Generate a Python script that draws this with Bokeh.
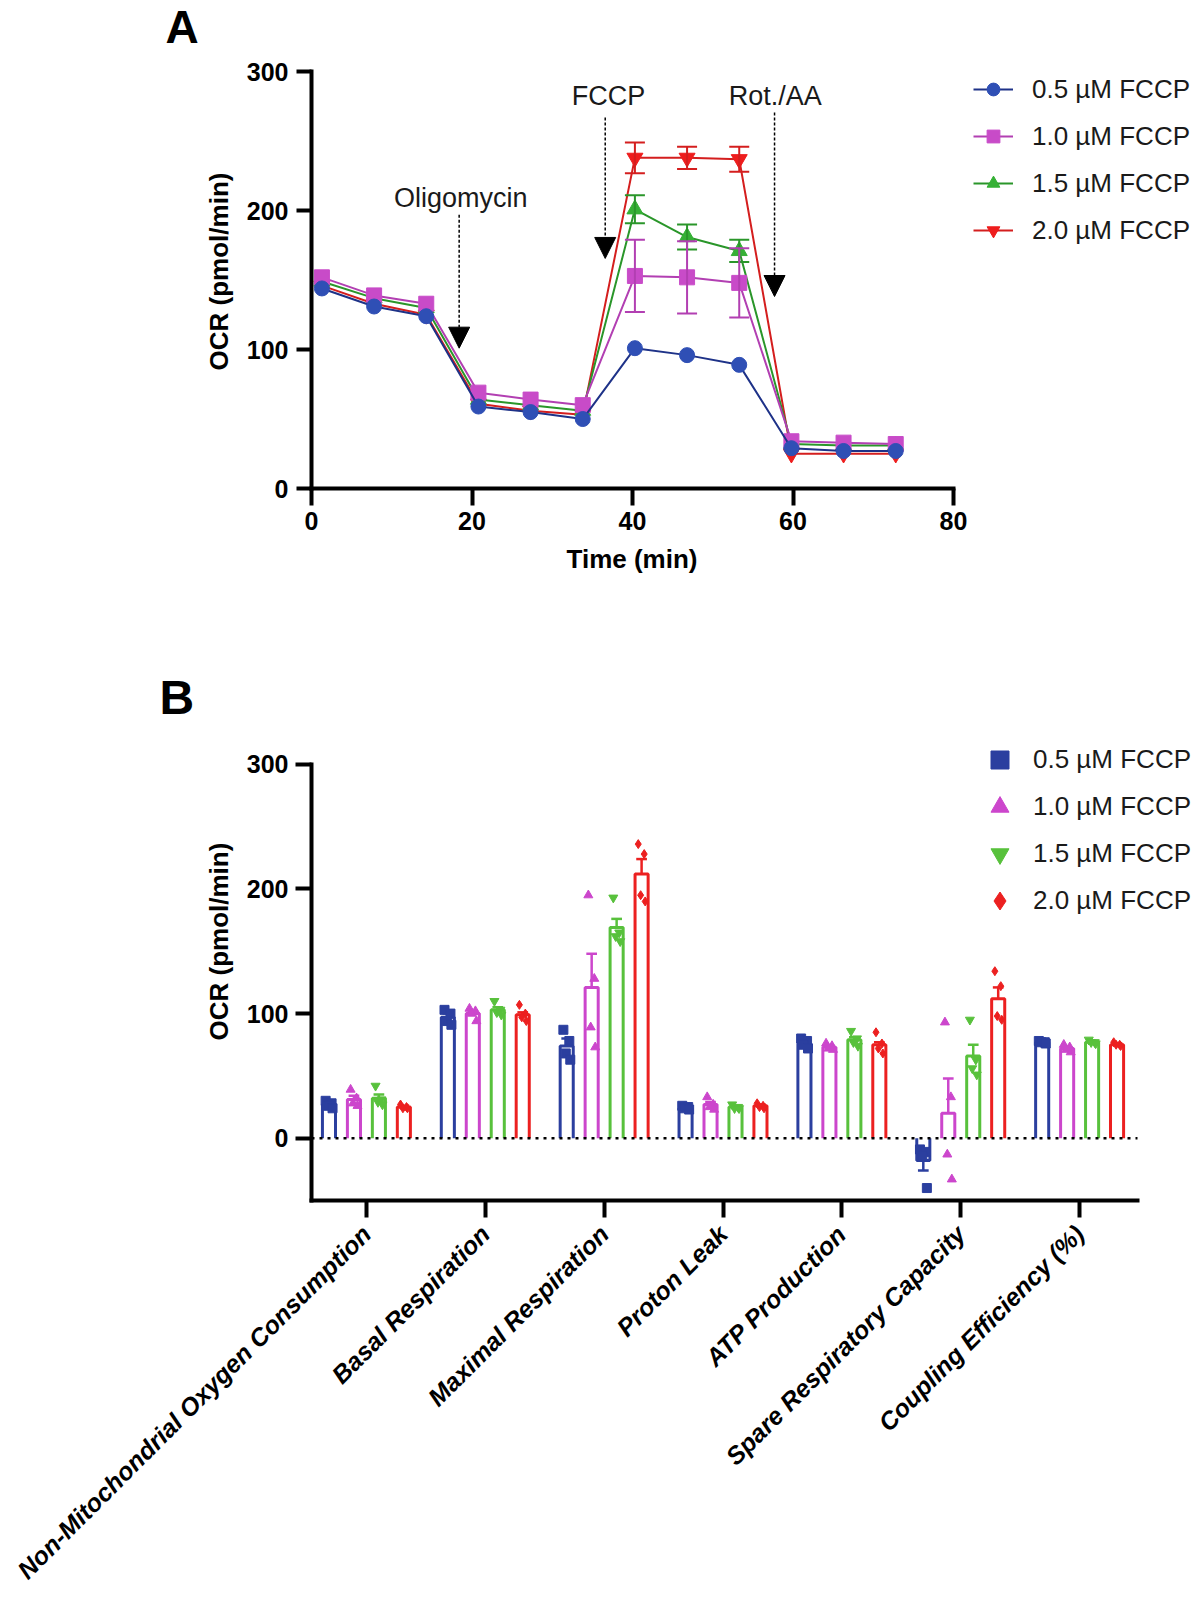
import math
from bokeh.plotting import figure
from bokeh.models import (ColumnDataSource, FixedTicker, Legend, LegendItem, Label,
                          Arrow, NormalHead, Whisker, TeeHead, Title)
from bokeh.layouts import column
from bokeh.embed import file_html
from bokeh.resources import INLINE

FONT = "Liberation Sans"

# ---------------- Panel A data ----------------
time_min = [1.3, 7.8, 14.3, 20.8, 27.3, 33.8, 40.3, 46.8, 53.3, 59.8, 66.3, 72.8]
ocr_05 = [144, 131, 124, 59, 55, 50, 101, 96, 89, 29, 27, 27]
ocr_10 = [152, 139, 133, 69, 64, 60, 153, 152, 148, 34, 33, 32]
ocr_15 = [149, 137, 130, 64, 60, 56, 201, 181, 171, 32, 31, 31]
ocr_20 = [146, 133, 125, 61, 56, 53, 238, 238, 237, 25, 25, 25]
sem_05 = [2, 2, 2, 2, 2, 2, 3, 2, 2, 1, 1, 1]
sem_10 = [3, 3, 3, 2, 2, 2, 26, 26, 25, 2, 2, 2]
sem_15 = [2, 2, 2, 2, 2, 2, 10, 9, 8, 1, 1, 1]
sem_20 = [2, 2, 2, 2, 2, 2, 11, 8, 9, 1, 1, 1]
series_labels = ["0.5 µM FCCP", "1.0 µM FCCP", "1.5 µM FCCP", "2.0 µM FCCP"]
x_ticks_A = [0, 20, 40, 60, 80]
y_ticks = [0, 100, 200, 300]

injection_labels = ["Oligomycin", "FCCP", "Rot./AA"]
injection_time = [18.4, 36.6, 57.7]

# ---------------- Panel B data ----------------
categories_B = ["Non-Mitochondrial Oxygen Consumption", "Basal Respiration",
                "Maximal Respiration", "Proton Leak", "ATP Production",
                "Spare Respiratory Capacity", "Coupling Efficiency (%)"]
mean_05 = [27, 97, 74, 24, 76, -18, 77]
mean_10 = [31, 100, 121, 27, 73, 20, 72]
mean_15 = [32, 103, 169, 25, 79, 66, 77]
mean_20 = [25, 99, 212, 26, 75, 112, 75]
semb_05 = [1, 3, 6, 1, 2, 8, 1]
semb_10 = [3, 2, 27, 2, 1, 28, 1]
semb_15 = [3, 2, 7, 1, 2, 9, 1]
semb_20 = [1, 2, 12, 1, 2, 9, 1]
pts_05 = [[30, 28, 26, 24], [103, 100, 94, 91], [87, 78, 68, 63], [26, 25, 24, 23],
          [80, 78, 75, 72], [-9, -11, -14, -40], [78, 77, 77, 76]]
pts_10 = [[39, 32, 28, 26], [104, 102, 100, 94], [195, 128, 89, 73], [33, 27, 25, 23],
          [76, 74, 72, 71], [93, 33, -13, -33], [75, 73, 71, 69]]
pts_15 = [[42, 31, 29, 27], [110, 103, 101, 99], [193, 165, 162, 158], [27, 25, 24, 24],
          [86, 80, 77, 74], [95, 63, 56, 51], [79, 77, 77, 76]]
pts_20 = [[27, 25, 24, 24], [107, 100, 97, 94], [236, 228, 195, 190], [28, 26, 25, 24],
          [85, 76, 72, 68], [134, 122, 98, 95], [77, 75, 75, 74]]

# ---------------- styling ----------------
A_marker_col = ["#2f4fb5", "#c84bc8", "#35b035", "#ee1d1d"]
A_line_col = ["#1e3288", "#b23fb2", "#2a962a", "#d41e1e"]
A_markers = ["circle", "square", "triangle", "inverted_triangle"]
B_col = ["#2b3f9f", "#cc46cc", "#58c13c", "#ec2020"]
B_markers = ["square", "triangle", "inverted_triangle", "diamond"]


def style_axis(ax, tick_out):
    ax.axis_line_width = 4
    ax.axis_line_color = "black"
    ax.axis_line_cap = "square"
    ax.major_tick_line_width = 4
    ax.major_tick_line_color = "black"
    ax.major_tick_out = tick_out
    ax.major_tick_in = 0
    ax.minor_tick_out = 0
    ax.minor_tick_in = 0
    ax.major_label_text_font = FONT
    ax.major_label_text_font_style = "bold"
    ax.major_label_text_font_size = "25px"
    ax.major_label_text_color = "black"
    ax.axis_label_text_font = FONT
    ax.axis_label_text_font_style = "bold"
    ax.axis_label_text_font_size = "26px"
    ax.axis_label_text_color = "black"


# ================= Panel A =================
# frame: x 311..1200 (axis drawn 0..80 via bounds), y 52..488 (axis drawn 0..300)
A_px_per_min = 642 / 80.0
A_px_per_ocr = 418.7 / 300.0
A_top = 300 + (69.3 - 52) / A_px_per_ocr
pA = figure(width=1200, height=600, x_range=(0, 889 / A_px_per_min), y_range=(0, A_top),
            output_backend="svg", toolbar_location=None,
            min_border_left=311, min_border_right=0,
            min_border_top=52, min_border_bottom=112)
pA.outline_line_color = None
pA.xgrid.visible = False
pA.ygrid.visible = False
style_axis(pA.xaxis[0], 17)
style_axis(pA.yaxis[0], 15)
pA.xaxis.bounds = (0, 80)
pA.yaxis.bounds = (0, 300)
pA.xaxis.ticker = FixedTicker(ticks=x_ticks_A)
pA.yaxis.ticker = FixedTicker(ticks=y_ticks)
pA.xaxis.major_label_standoff = 6
pA.yaxis.major_label_standoff = 8
pA.yaxis.axis_label = "OCR (pmol/min)"
pA.yaxis.axis_label_standoff = 10

pA.title.text = "A"
pA.title.align = "left"
pA.title.vertical_align = "top"
pA.title.offset = -146
pA.title.standoff = 0
pA.title.text_font = FONT
pA.title.text_font_size = "46px"
pA.title.text_font_style = "bold"
pA.title.text_color = "black"

xlabA = Title(text="Time (min)", align="left", vertical_align="top",
              offset=255, standoff=22, text_font=FONT, text_font_size="26px",
              text_font_style="bold", text_color="black")
pA.add_layout(xlabA, "below")

ocr_all = [ocr_05, ocr_10, ocr_15, ocr_20]
sem_all = [sem_05, sem_10, sem_15, sem_20]
rendA = {}
for k in [3, 2, 1, 0]:
    lr = pA.line(time_min, ocr_all[k], line_color=A_line_col[k], line_width=2)
    sel = [i for i, s in enumerate(sem_all[k]) if s >= 5]
    if sel:
        src = ColumnDataSource(dict(
            x=[time_min[i] for i in sel],
            up=[ocr_all[k][i] + sem_all[k][i] for i in sel],
            lo=[ocr_all[k][i] - sem_all[k][i] for i in sel]))
        w = Whisker(base="x", upper="up", lower="lo", source=src, dimension="height",
                    line_color=A_line_col[k], line_width=2, level="glyph",
                    upper_head=TeeHead(size=20, line_color=A_line_col[k], line_width=2),
                    lower_head=TeeHead(size=20, line_color=A_line_col[k], line_width=2))
        pA.add_layout(w)
    sr = pA.scatter(time_min, ocr_all[k], marker=A_markers[k], size=15 if k < 2 else 16,
                    fill_color=A_marker_col[k], line_color=A_marker_col[k])
    rendA[k] = (lr, sr)

legA = Legend(items=[LegendItem(label=series_labels[k], renderers=list(rendA[k])) for k in range(4)],
              location=(662, 242), glyph_width=40, glyph_height=32, spacing=15,
              label_standoff=19, padding=0, margin=0, border_line_color=None,
              background_fill_alpha=0, label_text_font=FONT, label_text_font_size="26px",
              label_text_color="#1a1a1a")
pA.add_layout(legA, "center")

# injection arrows (annotation positions in data units)
arrow_top = [197, 267, 270.6]
arrow_tip = [101, 165.6, 138.2]
label_xy = [(18.6, 209), (37.0, 282.8), (57.8, 282.8)]
for k in range(3):
    pA.add_layout(Arrow(end=NormalHead(size=21, fill_color="black", line_color="black"),
                        x_start=injection_time[k], y_start=arrow_top[k],
                        x_end=injection_time[k], y_end=arrow_tip[k],
                        line_color="black", line_width=1.5, line_dash="3 2"))
    pA.add_layout(Label(x=label_xy[k][0], y=label_xy[k][1], text=injection_labels[k],
                        text_align="center", text_baseline="middle",
                        text_font=FONT, text_font_size="27px", text_color="#1a1a1a"))

# ================= Panel B =================
# frame: x 310..1200, y 725..1202 (page); axis drawn -50..300 via bounds
B_px_per_unit = 119.0
B_x0 = -0.462
B_x1 = 6.487
B_px_per_ocr = 437.7 / 350.0
B_top = 300 + 39 / B_px_per_ocr
pB = figure(width=1200, height=996, x_range=(B_x0, B_x0 + 890 / B_px_per_unit),
            y_range=(-50, B_top),
            output_backend="svg", toolbar_location=None,
            min_border_left=310, min_border_right=0,
            min_border_top=125, min_border_bottom=394)
pB.outline_line_color = None
pB.xgrid.visible = False
pB.ygrid.visible = False
style_axis(pB.xaxis[0], 17)
style_axis(pB.yaxis[0], 16)
pB.yaxis.bounds = (-50, 300)
pB.xaxis.bounds = (B_x0, B_x1)
pB.yaxis.ticker = FixedTicker(ticks=y_ticks)
pB.yaxis.major_label_standoff = 7
pB.xaxis.ticker = FixedTicker(ticks=list(range(len(categories_B))))
pB.xaxis.major_label_overrides = {i: c for i, c in enumerate(categories_B)}
pB.xaxis.major_label_orientation = math.pi / 4
pB.xaxis.major_label_text_font_style = "bold italic"
pB.xaxis.major_label_text_font_size = "25px"
pB.xaxis.major_label_standoff = 12

pB.title.text = "B"
pB.title.align = "left"
pB.title.vertical_align = "bottom"
pB.title.offset = -152
pB.title.standoff = 3
pB.title.text_font = FONT
pB.title.text_font_size = "48px"
pB.title.text_font_style = "bold"
pB.title.text_color = "black"

ylabB = Title(text="OCR (pmol/min)", align="left", vertical_align="bottom",
              offset=160, standoff=20, text_font=FONT, text_font_size="26px",
              text_font_style="bold", text_color="black")
pB.add_layout(ylabB, "left")

means = [mean_05, mean_10, mean_15, mean_20]
sems = [semb_05, semb_10, semb_15, semb_20]
pts = [pts_05, pts_10, pts_15, pts_20]
offsets = [-0.315, -0.105, 0.105, 0.315]
bar_w = 0.11
cap_hw = 0.045
jit = [-0.028, 0.022, -0.008, 0.03]
rendB = []
for k in range(4):
    c = B_col[k]
    xs_c = [i + offsets[k] for i in range(len(categories_B))]
    bx = [[x - bar_w / 2, x - bar_w / 2, x + bar_w / 2, x + bar_w / 2] for x in xs_c]
    by = [[0, m, m, 0] for m in means[k]]
    pB.patches(bx, by, fill_color="white", line_color=None)
    pB.multi_line(bx, by, line_color=c, line_width=3)
    ex, ey = [], []
    for x, m, s in zip(xs_c, means[k], sems[k]):
        e = m + s if m >= 0 else m - s
        ex.append([x, x]); ey.append([m, e])
        ex.append([x - cap_hw, x + cap_hw]); ey.append([e, e])
    pB.multi_line(ex, ey, line_color=c, line_width=2.5)
    px, py = [], []
    for i, x in enumerate(xs_c):
        for j, v in enumerate(pts[k][i]):
            px.append(x + jit[j % 4])
            py.append(v)
    r = pB.scatter(px, py, marker=B_markers[k], size=9, fill_color=c, line_color=c)
    rendB.append(r)

# dotted zero reference line across the axis extent
pB.segment(x0=[B_x0], y0=[0], x1=[B_x1], y1=[0], line_color="black",
           line_width=2.5, line_dash="3 5")

legB = Legend(items=[LegendItem(label=series_labels[k], renderers=[rendB[k]]) for k in range(4)],
              location=(666, 277), glyph_width=45, glyph_height=45, spacing=2,
              label_standoff=11, padding=0, margin=0, border_line_color=None,
              background_fill_alpha=0, label_text_font=FONT, label_text_font_size="26px",
              label_text_color="#1a1a1a")
pB.add_layout(legB, "center")

layout = column(pA, pB)
with open("out.html", "w", encoding="utf-8") as f:
    f.write(file_html(layout, INLINE))
